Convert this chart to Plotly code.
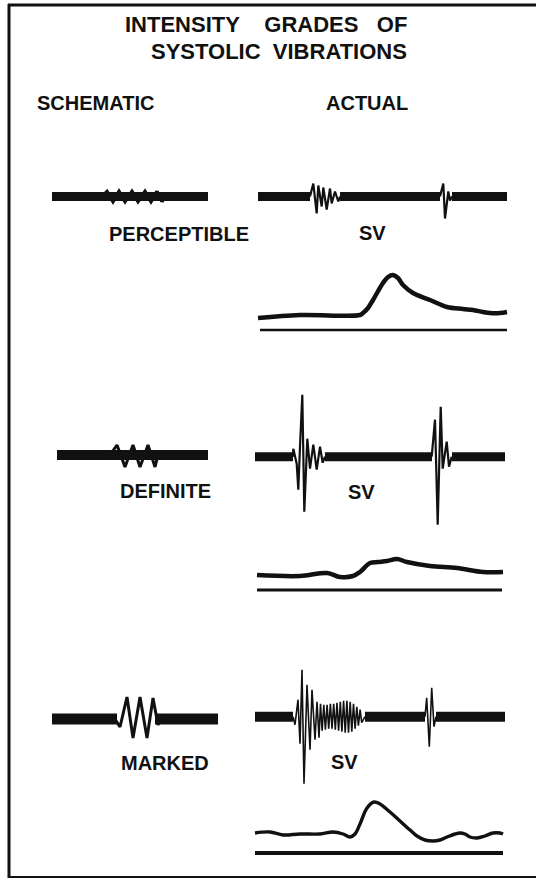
import plotly.graph_objects as go

# ---------------- text ----------------
TITLE_LINES = ["INTENSITY\u00a0\u00a0\u00a0\u00a0GRADES\u00a0\u00a0\u00a0OF",
               "SYSTOLIC\u00a0\u00a0VIBRATIONS"]
COLUMN_HEADS = ["SCHEMATIC", "ACTUAL"]
GRADES = ["PERCEPTIBLE", "DEFINITE", "MARKED"]
SV_LABEL = "SV"

# ---------------- schematic drawings ----------------
# bar extents (time units) and wave vertices: time, deflection (up = +)
SCH_PERC_BAR = [[2, 158]]
SCH_PERC_T = [52, 57, 63, 69, 75, 82, 88, 95, 101, 107, 112, 115]
SCH_PERC_A = [0, 5, -5, 5, -5, 5, -5, 5, -5, 5, -5, 0]

SCH_DEF_BAR = [[7, 158]]
SCH_DEF_T = [60, 67, 75, 83, 90, 98, 105, 108]
SCH_DEF_A = [0, 10, -12, 10, -12, 10, -12, 0]

SCH_MARK_BAR = [[2, 67], [105, 168]]
SCH_MARK_T = [65, 70, 77, 83, 90, 97, 103, 108, 110]
SCH_MARK_A = [0, -8, 22, -19, 22, -19, 21, -6, 0]

# ---------------- recorded vibrations ----------------
# steady baseline segments between the bursts, then burst vertices
ACT_PERC_BAND = [[3, 55], [85, 185], [197, 252]]
ACT_PERC_T = [55, 58.3, 61.7, 63.3, 66.7, 68.3, 71.7, 75, 76.7, 80, 83.3, 85,
              None, 185, 188.3, 190, 193.3, 195, 197]
ACT_PERC_A = [0, 13, -17, 11, -10, 9, -13, 8, -7, 5, -5, 0,
              None, 0, 13, -22, 5, -4, 0]

ACT_DEF_BAND = [[0, 38], [70, 177], [197, 250]]
ACT_DEF_T = [38, 38.3, 41.7, 43.3, 45, 47.3, 49.3, 52.3, 55, 58.3, 61.7, 65, 67.7, 70,
             None, 176.7, 180, 182.7, 185.7, 187.7, 191.7, 194, 196.7]
ACT_DEF_A = [0, 8, -7, -33, 10, 62, -55, 18, -12, 12, -13, 10, -6, 0,
             None, 0, 37, -68, 50, -12, 15, -10, 0]

ACT_MARK_BAND = [[0, 38], [110, 170], [181, 250]]
ACT_MARK_T = [38, 40, 43, 45, 47, 49, 52, 55, 57, 60, 62, 64,
              65.5, 67.1, 68.8, 70.4, 72.1, 73.7, 75.4, 77.0, 78.7, 80.3, 82.0, 83.6,
              85.3, 86.9, 88.6, 90.2, 91.9, 93.5, 95.2, 96.8, 98.5, 100.1, 101.8, 103.4,
              105.1, 106.7, 110,
              None, 170, 171.7, 174.3, 176.7, 179, 181]
ACT_MARK_A = [0, -8, 17, -27, 47, -67, 32, -33, 27, -23, 15, -21,
              13, -14, 12, -13, 12, -12, 13, -12, 13, -13, 14, -14,
              15, -15, 16, -16, 16, -16, 15, -15, 13, -12, 10, -9,
              7, -6, 0,
              None, 0, 19, -30, 29, -10, 0]

# ---------------- pulse tracings (height above the reference line) ----------------
PULSE_PERC_T = [3, 45, 105, 108, 113, 118, 128, 133, 138, 143, 148, 158, 175, 192,
                208, 218, 228, 235, 245, 252]
PULSE_PERC_H = [12, 15, 15, 17, 22, 30, 47, 53, 55, 52, 45, 37, 30, 23,
                21, 20, 18, 17, 17, 18]
PULSE_PERC_REF = [5, 252]

PULSE_DEF_T = [2, 45, 72, 85, 98, 105, 115, 123, 132, 142, 152, 175, 202, 228, 248]
PULSE_DEF_H = [15, 14, 17, 13, 14, 18, 27, 28, 29, 31, 28, 24, 22, 18, 18]
PULSE_DEF_REF = [2, 247]

PULSE_MARK_T = [0, 15, 28, 45, 65, 78, 88, 95, 100, 105, 112, 119, 125, 135, 145,
                155, 162, 170, 178, 185, 192, 200, 205, 210, 215, 222, 230, 238, 245, 248]
PULSE_MARK_H = [20, 21, 18, 19, 19, 21, 19, 16, 19, 29, 45, 51, 49, 41, 32,
                23, 17, 13, 12, 13, 16, 19, 20, 19, 16, 15, 17, 20, 20, 19]
PULSE_MARK_REF = [0, 248]

# ---------------- layout ----------------
W, H = 536, 888
INK = "#111111"
FONT = "Liberation Sans"
SCH_X0, ACT_X0 = 50, 255
SCH_Y = [196.5, 455, 719]
ACT_Y = [196.5, 456.7, 716.7]
REF_Y = [330, 590, 853]
SCH_BAR_W = [9, 10, 11]
SCH_WAVE_W = [3.5, 3, 3]
ACT_BAND_W = [9, 9, 10]
ACT_BURST_W = [2.2, 2.2, 1.6]
PULSE_W = [4.5, 4.5, 3.4]
REF_W = [2.5, 3, 4]

fig = go.Figure()


def line(xs, ys, width, shape="linear"):
    fig.add_trace(go.Scatter(x=xs, y=ys, mode="lines", hoverinfo="skip",
                             line=dict(color=INK, width=width, shape=shape,
                                       smoothing=1.0 if shape == "spline" else None)))


def band(segments, x0, y0, width):
    xs, ys = [], []
    for a, b in segments:
        xs += [x0 + a, x0 + b, None]
        ys += [y0, y0, None]
    line(xs, ys, width)


def wave(ts, amps, x0, y0, width):
    xs = [None if t is None else x0 + t for t in ts]
    ys = [None if a is None else y0 - a for a in amps]
    line(xs, ys, width)


sch = [(SCH_PERC_BAR, SCH_PERC_T, SCH_PERC_A),
       (SCH_DEF_BAR, SCH_DEF_T, SCH_DEF_A),
       (SCH_MARK_BAR, SCH_MARK_T, SCH_MARK_A)]
act = [(ACT_PERC_BAND, ACT_PERC_T, ACT_PERC_A),
       (ACT_DEF_BAND, ACT_DEF_T, ACT_DEF_A),
       (ACT_MARK_BAND, ACT_MARK_T, ACT_MARK_A)]
pulses = [(PULSE_PERC_T, PULSE_PERC_H, PULSE_PERC_REF),
          (PULSE_DEF_T, PULSE_DEF_H, PULSE_DEF_REF),
          (PULSE_MARK_T, PULSE_MARK_H, PULSE_MARK_REF)]

for i in range(3):
    bars, st, sa = sch[i]
    band(bars, SCH_X0, SCH_Y[i], SCH_BAR_W[i])
    wave(st, sa, SCH_X0, SCH_Y[i], SCH_WAVE_W[i])

    segs, at, aa = act[i]
    band(segs, ACT_X0, ACT_Y[i], ACT_BAND_W[i])
    wave(at, aa, ACT_X0, ACT_Y[i], ACT_BURST_W[i])

    pt, ph, pref = pulses[i]
    line([ACT_X0 + t for t in pt], [REF_Y[i] - h for h in ph], PULSE_W[i], "spline")
    line([ACT_X0 + pref[0], ACT_X0 + pref[1]], [REF_Y[i], REF_Y[i]], REF_W[i])

# ---------------- lettering ----------------
def label(text, x, y, size=20):
    fig.add_annotation(x=x, y=y, text=text, showarrow=False, xanchor="center",
                       yanchor="middle", xref="x", yref="y",
                       font=dict(family=FONT, size=size, color=INK, weight="bold"))


label(TITLE_LINES[0], 265.5, 24, 22)
label(TITLE_LINES[1], 278.5, 51.5, 22)
label(COLUMN_HEADS[0], 95, 102.5)
label(COLUMN_HEADS[1], 366.5, 102.5)
label(GRADES[0], 179, 233.5)
label(GRADES[1], 165, 491)
label(GRADES[2], 165, 763)
label(SV_LABEL, 372.5, 233)
label(SV_LABEL, 361, 492)
label(SV_LABEL, 344, 762)

# ---------------- frame ----------------
frame = dict(type="line", xref="x", yref="y", line=dict(color=INK))
fig.add_shape(**frame, x0=9, y0=4, x1=9, y1=878, line_width=3)
fig.add_shape(**frame, x0=8, y0=5, x1=536, y1=5, line_width=3)
fig.add_shape(**frame, x0=8, y0=877, x1=536, y1=877, line_width=2)

fig.update_layout(
    width=W, height=H, margin=dict(l=0, r=0, t=0, b=0),
    paper_bgcolor="white", plot_bgcolor="white", showlegend=False,
    hovermode=False,
    xaxis=dict(range=[0, W], visible=False, fixedrange=True),
    yaxis=dict(range=[H, 0], visible=False, fixedrange=True),
)

fig.write_html("out.html", config={"displayModeBar": False})
